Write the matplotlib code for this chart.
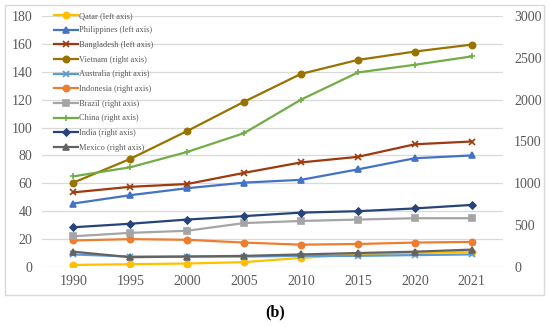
import matplotlib.pyplot as plt
import numpy as np
from matplotlib.patches import Rectangle

years = ['1990', '1995', '2000', '2005', '2010', '2015', '2020', '2021']

# left axis series
qatar = [1.5, 2, 2.5, 3.5, 6.5, 9, 10, 11]
philippines = [45.5, 51.5, 56.5, 60.5, 62.5, 70, 78, 80]
bangladesh = [53.5, 57.5, 59.5, 67.5, 75, 79, 88, 90]

# right axis series
vietnam = [1008, 1292, 1625, 1975, 2308, 2475, 2575, 2658]
australia = [150, 125, 125, 125, 133, 133, 142, 150]
indonesia = [317, 333, 325, 292, 267, 275, 292, 300]
brazil = [367, 408, 433, 525, 550, 567, 583, 583]
china = [1083, 1192, 1375, 1600, 2000, 2325, 2417, 2517]
india = [475, 517, 567, 608, 650, 667, 700, 742]
mexico = [183, 117, 125, 133, 150, 167, 183, 208]

plt.rcParams['font.family'] = ['Liberation Serif', 'DejaVu Serif']

fig = plt.figure(figsize=(5.5, 3.27), dpi=100)
ax = fig.add_axes([42/550, 1-267/327, (503-42)/550, (267-16)/327])
ax2 = ax.twinx()

x = np.arange(len(years))
lw = 1.6
ms = 4.5

left = [('Qatar (left axis)', qatar, '#FFC000', 'o'),
        ('Philippines (left axis)', philippines, '#4472C4', '^'),
        ('Bangladesh (left axis)', bangladesh, '#9E3A0E', 'x')]
right = [('Vietnam (right axis)', vietnam, '#997300', 'o'),
         ('Australia (right axis)', australia, '#5B9BD5', 'x'),
         ('Indonesia (right axis)', indonesia, '#ED7D31', 'o'),
         ('Brazil (right axis)', brazil, '#A5A5A5', 's'),
         ('China (right axis)', china, '#70AD47', '+'),
         ('India (right axis)', india, '#264478', 'D'),
         ('Mexico (right axis)', mexico, '#636363', '^')]

handles = []
for name, vals, c, m in left:
    h, = ax.plot(x, vals, color=c, marker=m, lw=lw, ms=ms, mew=1.2, label=name, zorder=3)
    handles.append(h)
for name, vals, c, m in right:
    msz = 3.5 if m == 'D' else ms
    h, = ax2.plot(x, vals, color=c, marker=m, lw=lw, ms=msz, mew=1.2, label=name, zorder=3)
    handles.append(h)

ax.set_ylim(0, 180)
ax.set_yticks(np.arange(0, 181, 20))
ax2.set_ylim(0, 3000)
ax2.set_yticks(np.arange(0, 3001, 500))
ax.set_xlim(-0.55, len(years) - 0.45)
ax.set_xticks(x)
ax.set_xticklabels(years)

ax.grid(axis='y', color='#D9D9D9', lw=0.9)
ax.set_axisbelow(True)
for a in (ax, ax2):
    for s in a.spines.values():
        s.set_visible(False)
    a.tick_params(length=0, labelsize=10, colors='#595959')
ax.tick_params(axis='y', pad=7)
ax2.tick_params(axis='y', pad=8)
ax.tick_params(axis='x', pad=6)

leg = ax2.legend(handles=handles, loc='upper left', bbox_to_anchor=(0.018, 1.03),
                 frameon=False, fontsize=6, handlelength=2.9, labelspacing=0.8,
                 handletextpad=0.2, borderaxespad=0)
for t in leg.get_texts():
    t.set_color('#595959')

fig.patches.append(Rectangle((5/550, 1-295/327), (544-5)/550, (295-5)/327,
                             transform=fig.transFigure, fill=False,
                             edgecolor='#D9D9D9', lw=1))
fig.text(0.5, 1-312/327, '(b)', ha='center', va='center', fontsize=11.5, fontweight='bold')

fig.savefig('out.png', dpi=100)
